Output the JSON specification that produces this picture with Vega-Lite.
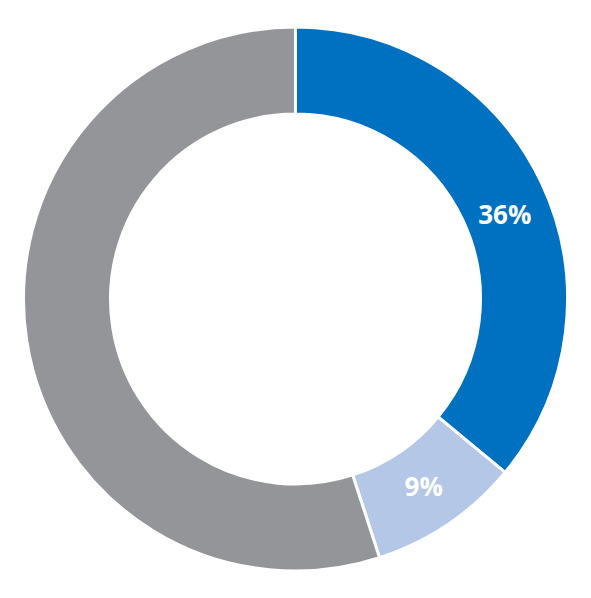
{
  "$schema": "https://vega.github.io/schema/vega-lite/v6.json",
  "width": 591,
  "height": 598,
  "autosize": {"type": "fit", "contains": "padding"},
  "padding": 0,
  "background": "white",
  "view": {"stroke": null},
  "data": {
    "values": [
      {"segment": "A", "value": 36, "order": 1, "label": "36%"},
      {"segment": "B", "value": 9, "order": 2, "label": "9%"},
      {"segment": "C", "value": 55, "order": 3, "label": ""}
    ]
  },
  "encoding": {
    "theta": {"field": "value", "type": "quantitative", "stack": true},
    "order": {"field": "order", "type": "quantitative"}
  },
  "layer": [
    {
      "mark": {"type": "arc", "radius": 272, "radius2": 185, "stroke": "white", "strokeWidth": 3},
      "encoding": {
        "color": {
          "field": "segment",
          "type": "nominal",
          "scale": {"domain": ["A", "B", "C"], "range": ["#0070C0", "#B4C7E7", "#939598"]},
          "legend": null
        }
      }
    },
    {
      "mark": {"type": "text", "radius": 228, "dx": 3, "dy": 14, "font": "Open Sans", "fontWeight": "bold", "fontSize": 26, "fill": "white", "align": "center", "baseline": "middle"},
      "encoding": {"text": {"condition": {"test": "datum.segment === 'A'", "field": "label"}, "value": ""}}
    },
    {
      "mark": {"type": "text", "radius": 228, "font": "Open Sans", "fontWeight": "bold", "fontSize": 26, "fill": "white", "align": "center", "baseline": "middle"},
      "encoding": {"text": {"condition": {"test": "datum.segment === 'B'", "field": "label"}, "value": ""}}
    }
  ]
}
